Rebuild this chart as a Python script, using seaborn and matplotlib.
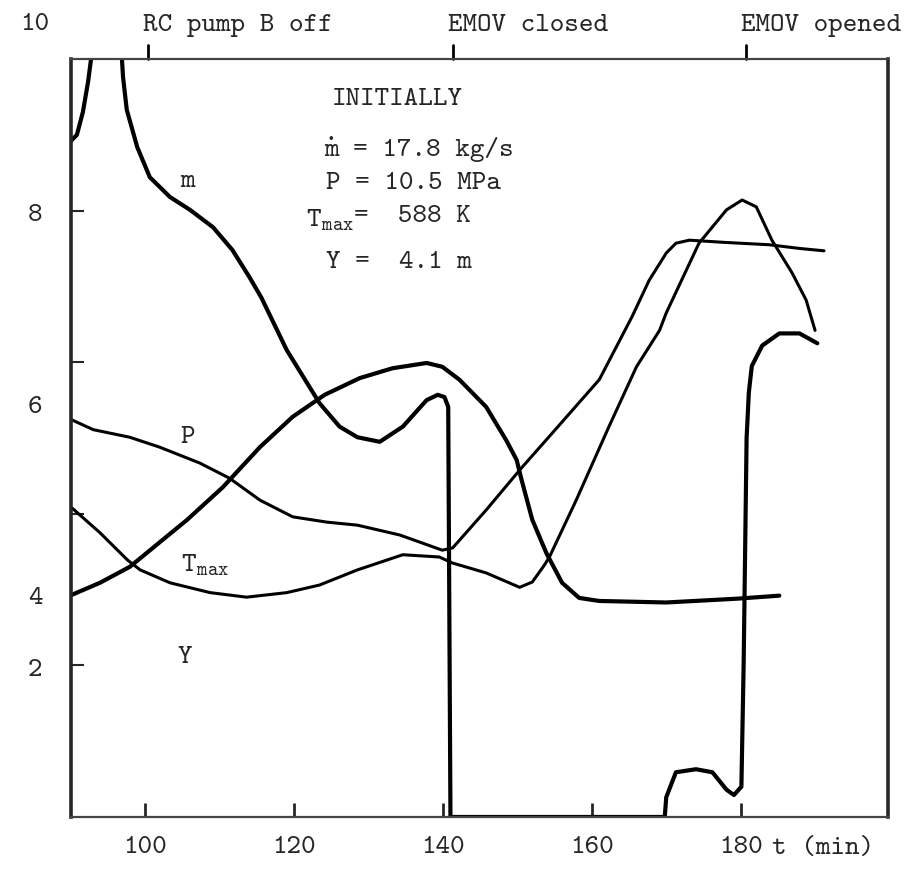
import numpy as np
import pandas as pd
import seaborn as sns
import matplotlib.pyplot as plt

# curves (scaled units on the y axis)
m_t = [90.1, 90.8, 91.6, 92.3, 92.7, 93.6, 94.8, 96.0, 96.85, 97.0, 97.5, 98.9, 100.6,
       103.3, 106.0, 109.1, 111.7, 114.0, 115.6, 119.0, 123.4, 126.1, 128.5, 131.5,
       134.6, 137.8, 139.3, 140.2, 140.7, 141.0, 169.8, 170.0, 171.3, 174.0, 176.2,
       178.1, 179.1, 180.1, 180.4, 180.8, 181.1, 181.5, 182.9, 185.2, 187.9, 190.3]
m_val = [8.93, 9.0, 9.3, 9.7, 10.0, 10.8, 11.2, 10.8, 10.0, 9.76, 9.33, 8.84, 8.44,
         8.18, 8.01, 7.78, 7.48, 7.12, 6.85, 6.16, 5.46, 5.15, 5.01, 4.95,
         5.15, 5.50, 5.57, 5.54, 5.41, 0.0, 0.0, 0.26, 0.59, 0.63, 0.59,
         0.36, 0.29, 0.40, 2.0, 5.0, 5.6, 5.95, 6.22, 6.38, 6.38, 6.25]

p_t = [90.1, 93.0, 97.9, 101.9, 107.3, 111.3, 115.4, 119.8, 124.4, 128.5, 134.2, 139.9,
       141.3, 145.8, 150.5, 155.0, 161.0, 165.4, 167.7, 170.0, 171.3, 173.1, 178.0,
       183.8, 188.0, 191.2]
p_val = [5.24, 5.11, 5.01, 4.88, 4.67, 4.47, 4.18, 3.96, 3.89, 3.85, 3.72, 3.52,
         3.55, 4.05, 4.60, 5.10, 5.77, 6.60, 7.08, 7.44, 7.57, 7.61, 7.58,
         7.55, 7.50, 7.47]

y_t = [90.1, 93.9, 97.6, 99.3, 103.3, 108.7, 113.6, 119.0, 123.4, 128.5, 134.6, 139.5,
       141.3, 145.8, 150.3, 152.0, 153.6, 154.3, 157.9, 162.3, 166.0, 169.1, 170.0,
       174.4, 178.1, 180.2, 182.1, 184.2, 186.9, 188.8, 190.0]
y_val = [4.08, 3.75, 3.39, 3.26, 3.09, 2.96, 2.90, 2.96, 3.06, 3.26, 3.46, 3.43,
         3.35, 3.22, 3.03, 3.10, 3.32, 3.43, 4.18, 5.15, 5.94, 6.42, 6.65,
         7.57, 8.01, 8.14, 8.05, 7.61, 7.18, 6.82, 6.42]

tmax_t = [90.1, 93.9, 97.9, 101.5, 105.6, 110.4, 115.4, 119.8, 124.1, 128.8, 133.2,
          137.8, 139.9, 142.2, 144.0, 145.8, 148.5, 149.9, 150.5, 152.0, 153.9, 156.0,
          158.3, 161.0, 170.0, 179.5, 185.2]
tmax_val = [2.93, 3.09, 3.30, 3.59, 3.92, 4.35, 4.88, 5.28, 5.57, 5.79, 5.92,
            5.99, 5.94, 5.77, 5.59, 5.41, 4.97, 4.71, 4.47, 3.92, 3.48, 3.09,
            2.89, 2.85, 2.83, 2.88, 2.92]

event_t = [100.3, 141.3, 180.7]
event_labels = ['RC pump B off', 'EMOV closed', 'EMOV opened']
x_ticks = [100, 120, 140, 160, 180]
y_ticks = [2, 4, 6, 8]
y_label_text = ['10', '8', '6', '4', '2']
y_label_pos = [10.45, 7.93, 5.40, 2.88, 1.93]

sns.set_theme(style='white')
plt.rcParams['font.family'] = ['cmtt10', 'DejaVu Sans Mono']
plt.rcParams['mathtext.fontset'] = 'custom'
plt.rcParams['mathtext.rm'] = 'cmtt10'
plt.rcParams['mathtext.it'] = 'cmtt10'
plt.rcParams['axes.unicode_minus'] = False

fig = plt.figure(figsize=(9.18, 8.72), dpi=100)
ax = fig.add_axes([0.0773, 0.0631, 0.89, 0.8692])

kw = dict(estimator=None, sort=False, color='black', ax=ax, legend=False)
sns.lineplot(x=m_t, y=m_val, lw=3.0, **kw)
sns.lineplot(x=tmax_t, y=tmax_val, lw=3.0, **kw)
sns.lineplot(x=p_t, y=p_val, lw=2.2, **kw)
sns.lineplot(x=y_t, y=y_val, lw=2.2, **kw)

ax.set_xlim(90, 199.8)
ax.set_ylim(0, 10)
for side in ['left', 'right']:
    ax.spines[side].set_linewidth(2.6)
for side in ['top', 'bottom']:
    ax.spines[side].set_linewidth(1.6)
    ax.spines[side].set_color('#444444')
for s in ax.spines.values():
    s.set_visible(True)

fs = 20
ax.set_xticks(x_ticks)
ax.set_xticklabels([str(v) for v in x_ticks], fontsize=fs)
ax.tick_params(axis='x', direction='in', length=10, width=2, pad=14, bottom=True)
ax.set_yticks(y_ticks)
ax.set_yticklabels([])
ax.tick_params(axis='y', direction='in', length=9, width=1.5, left=True)
ax.text(184.2, -0.42, 't (min)', fontsize=fs, ha='left', va='center')

for lab, yv in zip(y_label_text, y_label_pos):
    ax.text(-0.044, yv, lab, transform=ax.get_yaxis_transform(), fontsize=fs,
            ha='center', va='center', clip_on=False)

# event marks on top
for t, lab in zip(event_t, event_labels):
    ax.plot([t, t], [10.0, 10.18], color='black', lw=2, clip_on=False)
    ax.text(t - 0.6, 10.44, lab, fontsize=fs, ha='left', va='center', clip_on=False)

# curve labels
ax.text(105.7, 8.38, 'm', fontsize=fs, ha='center', va='center')
ax.text(105.7, 5.01, 'P', fontsize=fs, ha='center', va='center')
ax.text(108.0, 3.32, r'$\mathregular{T_{max}}$', fontsize=fs, ha='center', va='center')
ax.text(105.3, 2.10, 'Y', fontsize=fs, ha='center', va='center')

# initial conditions block
ax.text(133.9, 9.46, 'INITIALLY', fontsize=fs, ha='center', va='center')
ax.text(124.1, 8.80, 'm = 17.8 kg/s', fontsize=fs, ha='left', va='center')
ax.text(124.9, 8.85, '.', fontsize=fs, ha='center', va='bottom')
ax.text(124.3, 8.36, 'P = 10.5 MPa', fontsize=fs, ha='left', va='center')
ax.text(128.0, 7.87, r'$\mathregular{T_{max}}$', fontsize=fs, ha='right', va='center')
ax.text(128.0, 7.92, '=  588 K', fontsize=fs, ha='left', va='center')
ax.text(124.3, 7.31, 'Y =  4.1 m', fontsize=fs, ha='left', va='center')

fig.savefig('out.png', dpi=100)
